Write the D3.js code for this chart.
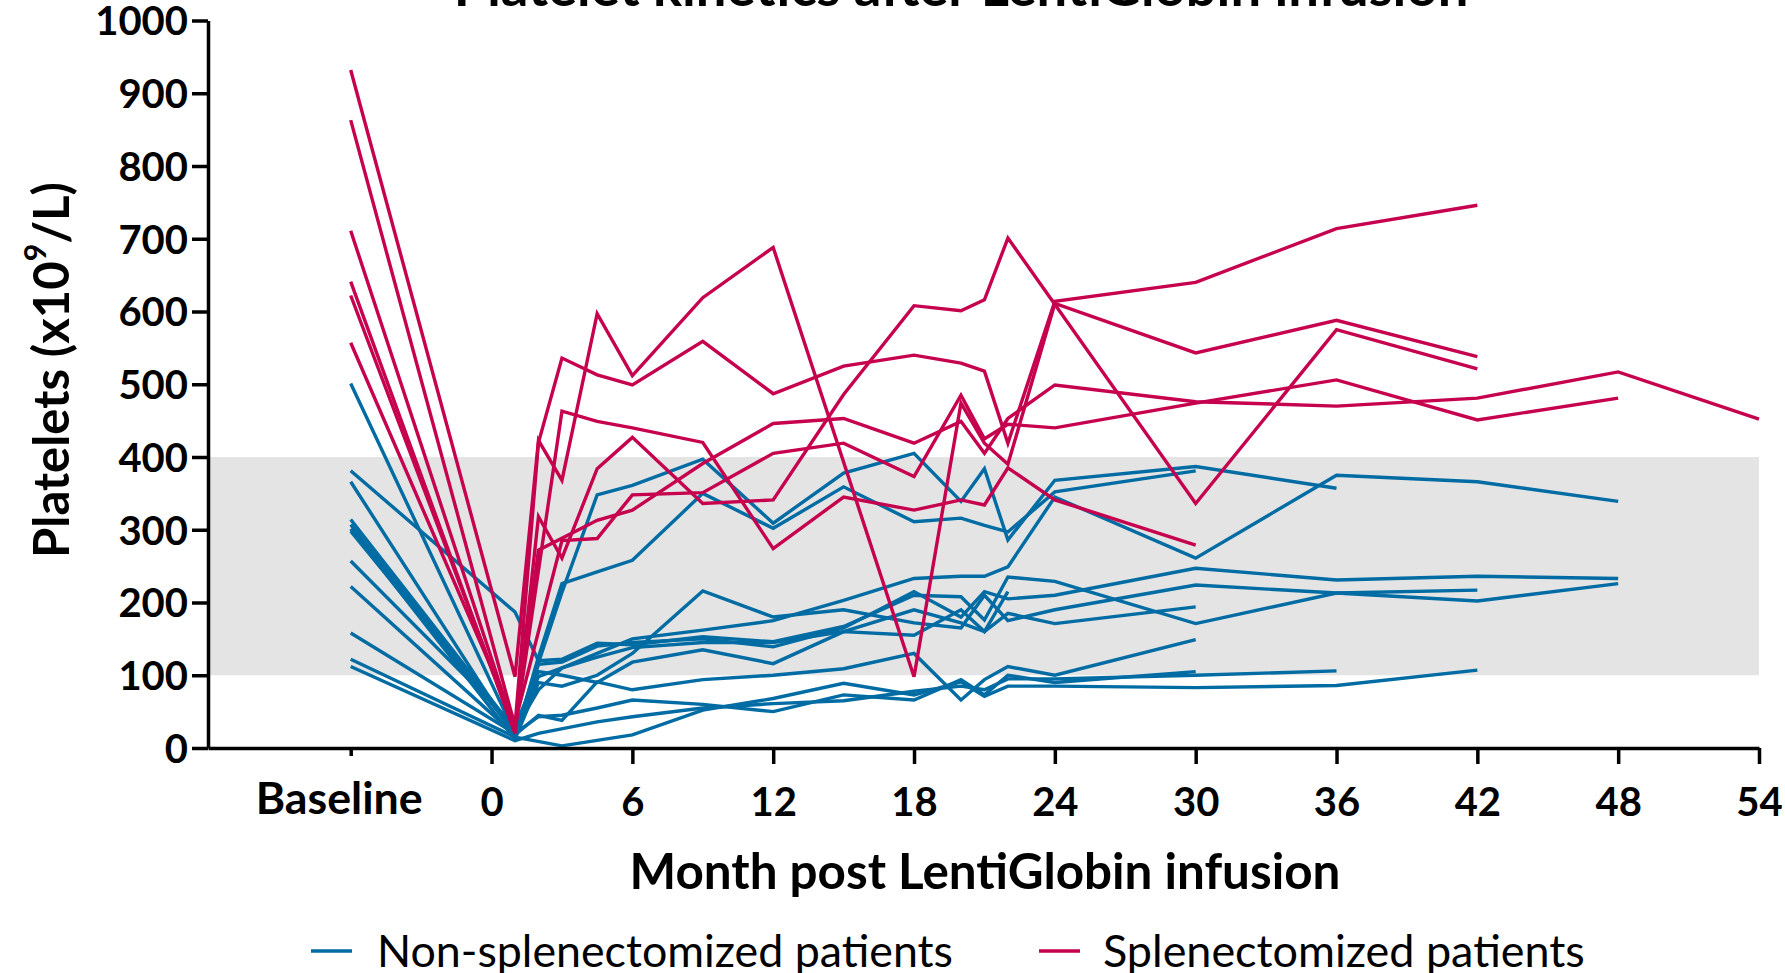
<!DOCTYPE html>
<html><head><meta charset="utf-8">
<script src="https://cdn.jsdelivr.net/npm/d3@7"></script>
<style>
body{margin:0;background:#fff}
svg{display:block}
text{font-family:Lato,"Open Sans",sans-serif;fill:#000}
</style></head>
<body><svg id="chart" width="1785" height="973"></svg>
<script>
// ---------- data ----------
// time points (Baseline plotted at -6 months)
const months = [-6, 1, 2, 3, 4.5, 6, 9, 12, 15, 18, 20, 21, 22, 24, 30, 36, 42, 48, 54];
const xTickValues = [-6, 0, 6, 12, 18, 24, 30, 36, 42, 48, 54];
const xTickLabels = ["Baseline", "0", "6", "12", "18", "24", "30", "36", "42", "48", "54"];
const yTickValues = [0, 100, 200, 300, 400, 500, 600, 700, 800, 900, 1000];
const normalRange = [100, 400];
const seriesNames = ["Non-splenectomized patients", "Splenectomized patients"];

// Splenectomized patients (values aligned with months; null = no visit)
const splen1 = [932, 98, 423, 368, 597, 512, 619, 688, null, 98, 474, 419, 390, 611, 543, 588, 538, null, null];
const splen2 = [863, 30, 420, 536, 513, 499, 559, 487, 525, 540, 529, 518, 419, 614, 640, 714, 746, null, null];
const splen3 = [711, 25, null, 463, 449, 440, 420, 274, 345, 327, 341, 334, 385, 341, 279, null, null, null, null];
const splen4 = [641, 20, 318, 261, 384, 427, 336, 341, 486, 608, 601, 616, 701, null, 336, 575, 521, null, null];
const splen5 = [622, 25, 272, null, 313, 327, 391, 446, 453, 419, 449, 405, 453, 499, 476, 470, 481, 517, 452];
const splen6 = [557, 35, null, 285, 288, 348, 351, 405, 419, 373, 485, 425, 445, 440, 474, 506, 451, 481, null];

// Non-splenectomized patients
const nonSplen1  = [501, 20, null, 214, 348, 361, 397, 309, 378, 405, 339, 384, 286, 368, 387, 357, null, null, null];
const nonSplen2  = [381, 187, 120, 122, 144, 142, 153, 146, 167, 210, 208, 176, 235, 229, 171, 213, 202, 226, null];
const nonSplen3  = [366, 15, 125, 226, 242, 258, 350, 302, 359, 311, 316, 306, 297, 352, 381, null, null, null, null];
const nonSplen4  = [314, 25, 80, 110, 130, 150, 162, 175, 203, 233, 236, 236, 249, 345, 261, 375, 366, 339, null];
const nonSplen5  = [307, 20, 115, 118, 140, 145, 150, 139, 165, 215, 180, 215, 205, 210, 247, 231, 236, 233, null];
const nonSplen6  = [301, 12, 90, 85, 100, 130, 216, 180, 190, 172, 165, 210, 175, 190, 224, 213, 217, null, null];
const nonSplen7  = [298, 22, 98, 110, 125, 138, 145, 145, 160, 155, 190, 160, 215, null, null, null, null, null, null];
const nonSplen8  = [257, 30, 105, 100, 90, 118, 135, 116, 160, 190, 172, 160, 185, 171, 194, null, null, null, null];
const nonSplen9  = [222, 18, 45, 38, 91, 80, 94, 100, 109, 130, 66, 94, 112, 100, 149, null, null, null, null];
const nonSplen10 = [158, 20, 43, 45, 55, 66, 60, 50, 73, 66, 94, 73, 100, 90, 105, null, null, null, null];
const nonSplen11 = [122, 15, null, 3, null, 18, 52, 68, 89, 73, 91, 71, 85, 85, 83, 86, 107, null, null];
const nonSplen12 = [112, 10, 20, null, 36, 43, 55, 61, 65, 78, 85, 80, 95, 95, 100, 106, null, null, null];

const nonSplenSeries = [nonSplen1, nonSplen2, nonSplen3, nonSplen4, nonSplen5, nonSplen6, nonSplen7, nonSplen8, nonSplen9, nonSplen10, nonSplen11, nonSplen12];
const splenSeries = [splen1, splen2, splen3, splen4, splen5, splen6];

// ---------- layout ----------
const BLUE = "#006ca3", RED = "#c6024f", BAND = "#e4e4e4";
const svg = d3.select("#chart");
const x = d3.scaleLinear().domain([-12.08, 54]).range([208, 1759]);
const y = d3.scaleLinear().domain([0, 1000]).range([748, 20.5]);

function fitWidth(sel, w) {
  const n = sel.node();
  const fs = parseFloat(sel.attr("font-size"));
  const cur = n.getComputedTextLength();
  sel.attr("font-size", (fs * w / cur).toFixed(2));
}

// normal range band
svg.append("rect")
  .attr("x", x(-12.08)).attr("width", x(54) - x(-12.08))
  .attr("y", y(normalRange[1])).attr("height", y(normalRange[0]) - y(normalRange[1]))
  .attr("fill", BAND);

// lines
const line = d3.line().x(d => x(d.m)).y(d => y(d.v));
function toPts(s) { return months.map((m, i) => ({ m, v: s[i] })).filter(d => d.v != null); }
const gLines = svg.append("g").attr("fill", "none").attr("stroke-width", 3.4).attr("stroke-linejoin", "miter");
gLines.selectAll("path.ns").data(nonSplenSeries).join("path")
  .attr("class", "ns").attr("stroke", BLUE).attr("d", s => line(toPts(s)));
gLines.selectAll("path.sp").data(splenSeries).join("path")
  .attr("class", "sp").attr("stroke", RED).attr("d", s => line(toPts(s)));

// y axis
const yAxis = svg.append("g").attr("transform", `translate(${x(-12.08)},0)`)
  .call(d3.axisLeft(y).tickValues(yTickValues).tickSize(16).tickSizeOuter(0).tickPadding(4)
    .tickFormat(d3.format("d")));
yAxis.select(".domain").attr("stroke", "#000").attr("stroke-width", 3.5);
yAxis.selectAll(".tick line").attr("stroke", "#000").attr("stroke-width", 3.5);
yAxis.selectAll(".tick text").attr("font-size", 40).attr("font-weight", 700)
  .attr("font-family", "Lato, 'Open Sans', sans-serif").attr("fill", "#000").attr("dy", "0.36em");

// x axis
const xAxis = svg.append("g").attr("transform", `translate(0,${y(0)})`)
  .call(d3.axisBottom(x).tickValues(xTickValues).tickSize(16).tickSizeOuter(0).tickPadding(24)
    .tickFormat((d, i) => xTickLabels[i]));
xAxis.select(".domain").attr("stroke", "#000").attr("stroke-width", 3.5);
xAxis.selectAll(".tick line").attr("stroke", "#000").attr("stroke-width", 3.5)
  .attr("y2", d => d === -6 ? 8 : 16);
xAxis.selectAll(".tick text").attr("font-size", 40).attr("font-weight", 700)
  .attr("font-family", "Lato, 'Open Sans', sans-serif").attr("fill", "#000")
  .attr("dx", d => d === -6 ? -12 : 0)
  .attr("y", d => d === -6 ? 34 : 40);
fitWidth(xAxis.selectAll(".tick text").filter(d => d === -6), 167);

// title (partly cut off at top)
const title = svg.append("text").attr("x", 961).attr("y", 6).attr("text-anchor", "middle")
  .attr("font-size", 44).attr("font-weight", 700).text("Platelet kinetics after LentiGlobin infusion");
fitWidth(title, 1015);

// x axis title
const xt = svg.append("text").attr("x", 985).attr("y", 889).attr("text-anchor", "middle")
  .attr("font-size", 44).attr("font-weight", 700).text("Month post LentiGlobin infusion");
fitWidth(xt, 711);

// y axis title
const yt = svg.append("text").attr("transform", "translate(69,370) rotate(-90)")
  .attr("text-anchor", "middle").attr("font-size", 46).attr("font-weight", 700);
yt.append("tspan").text("Platelets (x10");
yt.append("tspan").attr("font-size", "0.62em").attr("dy", "-0.75em").text("9");
yt.append("tspan").attr("dy", "0.465em").text("/L)");
fitWidth(yt, 376);

// legend
const legend = [
  { name: seriesNames[0], color: BLUE, x1: 311, x2: 352, tx: 377, w: 576 },
  { name: seriesNames[1], color: RED, x1: 1039, x2: 1080, tx: 1103, w: 482 }
];
legend.forEach(l => {
  svg.append("line").attr("x1", l.x1).attr("x2", l.x2).attr("y1", 951).attr("y2", 951)
    .attr("stroke", l.color).attr("stroke-width", 3.5);
  const t = svg.append("text").attr("x", l.tx).attr("y", 967).attr("font-size", 40).text(l.name);
  fitWidth(t, l.w);
});
</script>
</body></html>
